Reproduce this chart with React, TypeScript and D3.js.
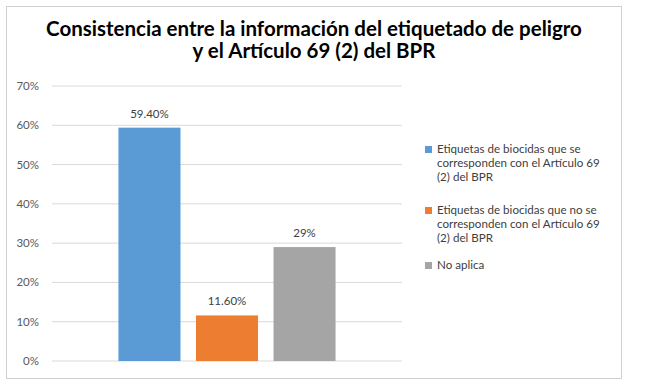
import React from 'react';
import * as d3 from 'd3';

const titleLines = ['Consistencia entre la información del etiquetado de peligro', 'y el Artículo 69 (2) del BPR'];
const seriesNames = [
  ['Etiquetas de biocidas que se', 'corresponden con el Artículo 69', '(2) del BPR'],
  ['Etiquetas de biocidas que no se', 'corresponden con el Artículo 69', '(2) del BPR'],
  ['No aplica'],
];
const seriesValues = [59.4, 11.6, 29];
const valueLabels = ['59.40%', '11.60%', '29%'];
const seriesColors = ['#5b9bd5', '#ed7d31', '#a5a5a5'];
const yTicks = [0, 10, 20, 30, 40, 50, 60, 70];

const W = 645, H = 386;
const plot = { left: 52, right: 402, top: 86, bottom: 361 };

const App = () => {
  const y = d3.scaleLinear().domain([0, 70]).range([plot.bottom, plot.top]);
  // one category holding three series bars
  const cluster = d3.scaleBand<number>().domain([0]).range([plot.left, plot.right]).paddingInner(0).paddingOuter(0.306);
  const x = d3.scaleBand<number>()
    .domain(seriesValues.map((_, i) => i))
    .range([cluster(0)!, cluster(0)! + cluster.bandwidth()])
    .paddingInner(0.2)
    .paddingOuter(0);

  const legendTops = [149, 210, 265];

  return (
    <svg width={W} height={H} style={{ position: 'absolute', left: 0, top: 0 }} fontFamily="Lato, sans-serif">
      <rect x={0} y={0} width={W} height={H} fill="#fff" />
      <rect x={6.5} y={6.5} width={615} height={372} fill="#fff" stroke="#d0d0d0" />
      {titleLines.map((t, i) => (
        <text key={i} x={314} y={36 + i * 22} textAnchor="middle" fontSize={20.5} fontWeight="bold" fill="#000">{t}</text>
      ))}
      {yTicks.map((t) => (
        <g key={t}>
          <line x1={plot.left} x2={plot.right} y1={y(t)} y2={y(t)} stroke="#d9d9d9" />
          <text x={39} y={y(t)} dy="0.35em" textAnchor="end" fontSize={11.5} fill="#595959">{t}%</text>
        </g>
      ))}
      {seriesValues.map((v, i) => (
        <g key={i}>
          <rect x={x(i)} y={y(v)} width={x.bandwidth()} height={y(0) - y(v)} fill={seriesColors[i]} />
          <text x={x(i)! + x.bandwidth() / 2} y={y(v) - 10} textAnchor="middle" fontSize={11.5} fill="#404040">{valueLabels[i]}</text>
        </g>
      ))}
      {seriesNames.map((lines, i) => (
        <g key={i}>
          <rect x={425} y={legendTops[i] - 3} width={7} height={7} fill={seriesColors[i]} />
          {lines.map((l, j) => (
            <text key={j} x={437} y={legendTops[i] + j * 14} dy="0.35em" fontSize={11.6} fill="#404040">{l}</text>
          ))}
        </g>
      ))}
    </svg>
  );
};

export default App;
